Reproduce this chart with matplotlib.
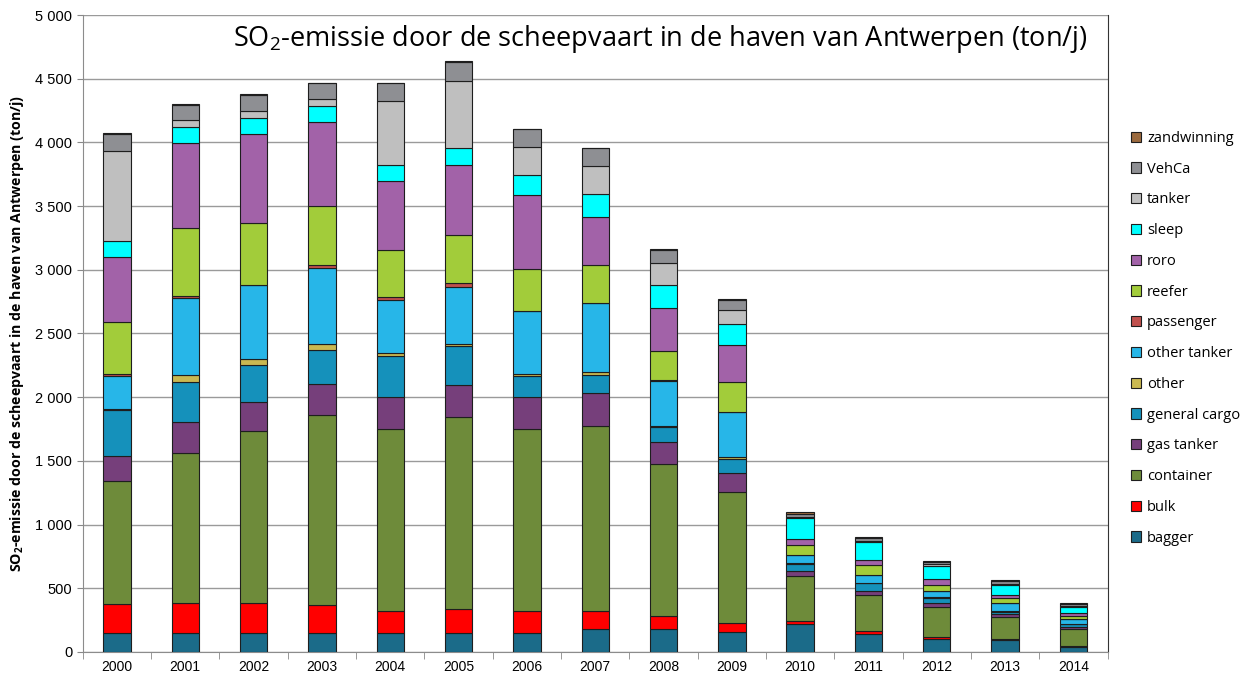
import numpy as np
import matplotlib
matplotlib.use('Agg')
import matplotlib.pyplot as plt
from matplotlib.ticker import MultipleLocator, FuncFormatter

plt.rcParams['font.family'] = ['Open Sans', 'DejaVu Sans']
plt.rcParams['mathtext.fontset'] = 'custom'
plt.rcParams['mathtext.rm'] = 'Open Sans'
plt.rcParams['mathtext.bf'] = 'Open Sans:bold'

years = ['2000', '2001', '2002', '2003', '2004', '2005', '2006', '2007',
         '2008', '2009', '2010', '2011', '2012', '2013', '2014']

# SO2-emissie per scheepstype (ton/j), van onder naar boven gestapeld
bagger = [147, 147, 147, 147, 147, 147, 147, 178, 183, 157, 220, 139, 102, 97, 42]
bulk = [230, 235, 235, 222, 178, 188, 172, 147, 100, 68, 23, 23, 18, 5, 8]
container = [966, 1183, 1356, 1492, 1429, 1508, 1430, 1447, 1191, 1029, 356, 283, 236, 170, 131]
gas_tanker = [194, 239, 228, 241, 251, 256, 256, 259, 173, 154, 35, 31, 26, 24, 13]
general_cargo = [364, 319, 285, 267, 320, 302, 160, 142, 120, 110, 57, 63, 39, 21, 23]
other = [5, 52, 47, 47, 21, 18, 16, 26, 10, 11, 5, 3, 8, 8, 6]
other_tanker = [264, 602, 579, 600, 418, 447, 497, 539, 351, 353, 66, 63, 50, 57, 34]
passenger = [15, 19, 5, 23, 21, 27, 0, 0, 6, 0, 0, 0, 0, 0, 0]
reefer = [409, 529, 482, 461, 369, 377, 330, 301, 225, 238, 81, 76, 50, 39, 28]
roro = [508, 667, 699, 662, 545, 555, 576, 377, 343, 288, 44, 42, 44, 24, 21]
sleep = [128, 128, 131, 126, 126, 130, 159, 181, 180, 165, 165, 141, 102, 84, 47]
tanker = [705, 55, 55, 52, 497, 524, 218, 217, 173, 110, 8, 10, 14, 5, 8]
vehca = [133, 121, 125, 123, 141, 155, 141, 139, 99, 82, 26, 24, 20, 21, 16]
zandwinning = [7, 5, 6, 6, 6, 7, 5, 5, 6, 6, 11, 5, 8, 8, 8]

series = [
    ('bagger', bagger, '#1b6b89'),
    ('bulk', bulk, '#ff0000'),
    ('container', container, '#6e8b3a'),
    ('gas tanker', gas_tanker, '#763f7b'),
    ('general cargo', general_cargo, '#1591bb'),
    ('other', other, '#c9b851'),
    ('other tanker', other_tanker, '#27b6e8'),
    ('passenger', passenger, '#c0504d'),
    ('reefer', reefer, '#a2cc3a'),
    ('roro', roro, '#a262a8'),
    ('sleep', sleep, '#00ffff'),
    ('tanker', tanker, '#bfbfbf'),
    ('VehCa', vehca, '#8e8f93'),
    ('zandwinning', zandwinning, '#9b6a3e'),
]

fig = plt.figure(figsize=(12.53, 6.86), dpi=100)
ax = fig.add_axes([0.066, 0.0496, 0.818, 0.9285])

x = np.arange(len(years))
bottom = np.zeros(len(years))
handles = []
for name, vals, col in series:
    vals = np.array(vals, dtype=float)
    b = ax.bar(x, vals, width=0.4, bottom=bottom, color=col,
               edgecolor='#1e1e1e', linewidth=0.8, label=name, zorder=3)
    handles.append(b)
    bottom += vals

ax.set_xlim(-0.5, len(years) - 0.5)
ax.set_ylim(0, 5000)
ax.yaxis.set_major_locator(MultipleLocator(500))
ax.yaxis.set_major_formatter(FuncFormatter(lambda v, p: f'{int(v):,}'.replace(',', ' ')))
ax.set_xticks(x)
ax.set_xticklabels(years)
ax.set_xticks(np.arange(len(years) + 1) - 0.5, minor=True)
ax.tick_params(axis='x', which='major', length=0, labelsize=10, pad=6)
ax.tick_params(axis='x', which='minor', length=5, color='#888888')
ax.tick_params(axis='y', length=4, color='#888888', labelsize=10.5)
for lab in ax.get_xticklabels() + ax.get_yticklabels():
    lab.set_family(['Liberation Sans', 'DejaVu Sans'])

ax.grid(axis='y', color='#9a9a9a', linewidth=1, zorder=0)
for s in ['left', 'bottom']:
    ax.spines[s].set_color('#8c8c8c')
ax.spines['top'].set_visible(False)
ax.spines['right'].set_color('#333333')
ax.spines['right'].set_linewidth(0.8)

ax.set_ylabel(r'SO$_\mathbf{2}$-emissie door de scheepvaart in de haven van Antwerpen (ton/j)',
              fontsize=10.2, fontweight='bold', labelpad=7)

ax.text(0.147, 0.988, r'SO$_\mathrm{2}$-emissie door de scheepvaart in de haven van Antwerpen (ton/j)',
        transform=ax.transAxes, fontsize=19.5, va='top', ha='left')

fig.legend(handles[::-1], [s[0] for s in series][::-1], loc='center left',
           bbox_to_anchor=(1118 / 1253, 0.507), frameon=False, fontsize=10.5,
           handlelength=0.7, handleheight=0.7, handletextpad=0.4, labelspacing=1.08)

fig.savefig('out.png', dpi=100)
